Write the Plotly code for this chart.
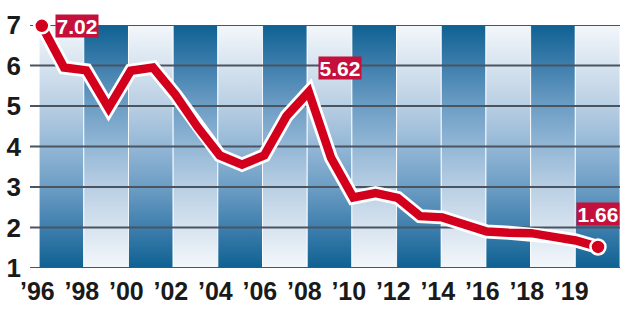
import plotly.graph_objects as go

# ---- data ----
years = list(range(1996, 2022))
values = [6.98, 5.95, 5.88, 4.95, 5.87, 5.95, 5.28, 4.48, 3.78, 3.55, 3.78, 4.75,
          5.35, 3.72, 2.74, 2.85, 2.73, 2.28, 2.25, 2.07, 1.90, 1.87, 1.86, 1.77,
          1.68, 1.52]
tick_years = list(range(1996, 2021, 2))
tick_text = ["’96", "’98", "’00", "’02", "’04", "’06", "’08", "’10", "’12",
             "’14", "’16", "’18", "’19"]
callout_idx = [0, 12, 25]
callout_text = ["7.02", "5.62", "1.66"]
y_ticks = [1, 2, 3, 4, 5, 6, 7]

# ---- styling ----
X0, X1 = 1995.47, 2021.99
COL0 = 1995.88
NCOL = 13
colw = (X1 - COL0) / NCOL
Y0, Y1 = 1, 7
RED = "#d2001c"
BOX = "#c4103a"
FONT = "Liberation Sans, Arial, sans-serif"

scale_a = [[0.0, "#0e6192"], [0.17, "#3f7fae"], [0.33, "#6c9dc4"], [0.5, "#93b7d6"],
           [0.67, "#b9cfe3"], [0.83, "#d6e3ef"], [1.0, "#f3f7fb"]]
scale_b = [[1 - p, c] for p, c in reversed(scale_a)]

fig = go.Figure()

for i in range(NCOL):
    a = COL0 + i * colw
    b = a + colw
    fig.add_trace(go.Scatter(
        x=[a, b, b, a, a], y=[Y0, Y0, Y1, Y1, Y0], mode="lines", fill="toself",
        line=dict(color="rgba(255,255,255,0.85)", width=1),
        fillgradient=dict(type="vertical", start=Y0, stop=Y1,
                          colorscale=scale_a if i % 2 == 0 else scale_b),
        hoverinfo="skip", showlegend=False))

gx, gy = [], []
for t in y_ticks:
    gx += [X0, X1, None]
    gy += [t, t, None]
fig.add_trace(go.Scatter(x=gx, y=gy, mode="lines",
                         line=dict(color="#4a5561", width=2),
                         hoverinfo="skip", showlegend=False))

# white halo + red line
fig.add_trace(go.Scatter(x=years, y=values, mode="lines",
                         line=dict(color="white", width=14),
                         hoverinfo="skip", showlegend=False, cliponaxis=False))
fig.add_trace(go.Scatter(x=years, y=values, mode="lines",
                         line=dict(color=RED, width=8.5),
                         hoverinfo="skip", showlegend=False, cliponaxis=False))
fig.add_trace(go.Scatter(x=[years[0], years[-1]], y=[values[0], values[-1]],
                         mode="markers",
                         marker=dict(color=RED, size=15, line=dict(color="white", width=2.5)),
                         hoverinfo="skip", showlegend=False, cliponaxis=False))

shifts = [(35, 0), (31, 24), (0, 33)]
for k, idx in enumerate(callout_idx):
    fig.add_annotation(x=years[idx], y=values[idx], text="<b>" + callout_text[k] + "</b>",
                       showarrow=False, xshift=shifts[k][0], yshift=shifts[k][1],
                       bgcolor=BOX, width=42, height=22, borderpad=0,
                       font=dict(family=FONT, size=21, color="white"))

fig.update_layout(
    width=620, height=310,
    margin=dict(l=30, r=0, t=25, b=42),
    paper_bgcolor="white", plot_bgcolor="white",
    showlegend=False,
    xaxis=dict(range=[X0, X1], showgrid=False, zeroline=False, showline=False,
               tickmode="array", tickvals=[t - 0.2 for t in tick_years],
               ticktext=["<b>" + t + "</b>" for t in tick_text],
               ticks="", ticklabelstandoff=6,
               tickfont=dict(family=FONT, size=25, color="#1a1a1a")),
    yaxis=dict(range=[Y0, Y1], showgrid=False, zeroline=False, showline=False,
               tickmode="array", tickvals=y_ticks,
               ticktext=["<b>%d</b>" % t for t in y_ticks],
               ticks="", ticklabelstandoff=8,
               tickfont=dict(family=FONT, size=26, color="#1a1a1a")),
)

fig.write_html("out.html")
